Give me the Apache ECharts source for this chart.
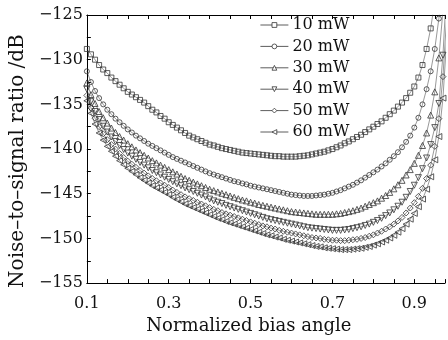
<!DOCTYPE html>
<html><head><meta charset="utf-8">
<script src="https://cdn.jsdelivr.net/npm/echarts@6/dist/echarts.min.js"></script>
<style>html,body{margin:0;padding:0;background:#fff}#c{width:448px;height:340px}</style>
</head><body><div id="c"></div>
<script>
const xs = [0.10,0.11,0.12,0.13,0.14,0.15,0.16,0.17,0.18,0.19,
0.20,0.21,0.22,0.23,0.24,0.25,0.26,0.27,0.28,0.29,
0.30,0.31,0.32,0.33,0.34,0.35,0.36,0.37,0.38,0.39,
0.40,0.41,0.42,0.43,0.44,0.45,0.46,0.47,0.48,0.49,
0.50,0.51,0.52,0.53,0.54,0.55,0.56,0.57,0.58,0.59,
0.60,0.61,0.62,0.63,0.64,0.65,0.66,0.67,0.68,0.69,
0.70,0.71,0.72,0.73,0.74,0.75,0.76,0.77,0.78,0.79,
0.80,0.81,0.82,0.83,0.84,0.85,0.86,0.87,0.88,0.89,
0.90,0.91,0.92,0.93,0.94,0.95,0.96,0.97,0.98];
const seriesNames = ['10 mW','20 mW','30 mW','40 mW','50 mW','60 mW'];
const p10 = [-128.8,-129.4,-130.0,-130.6,-131.1,-131.5,-132.0,-132.4,-132.8,-133.2,
-133.6,-133.9,-134.2,-134.5,-134.8,-135.2,-135.6,-135.9,-136.3,-136.6,
-137.0,-137.3,-137.6,-137.9,-138.2,-138.5,-138.7,-138.9,-139.1,-139.3,
-139.5,-139.6,-139.75,-139.9,-140.0,-140.1,-140.2,-140.3,-140.4,-140.45,
-140.5,-140.55,-140.6,-140.65,-140.7,-140.75,-140.8,-140.8,-140.85,-140.85,
-140.85,-140.85,-140.8,-140.75,-140.7,-140.6,-140.5,-140.4,-140.3,-140.15,
-140.0,-139.8,-139.6,-139.35,-139.15,-138.9,-138.65,-138.4,-138.1,-137.8,
-137.5,-137.2,-136.9,-136.5,-136.1,-135.7,-135.25,-134.8,-134.3,-133.7,
-133.0,-132.0,-130.6,-128.8,-126.5,-123.5];
const p20 = [-131.3,-132.5,-133.5,-134.3,-135.0,-135.6,-136.1,-136.6,-137.0,-137.4,
-137.8,-138.15,-138.5,-138.8,-139.1,-139.4,-139.65,-139.9,-140.15,-140.4,
-140.65,-140.9,-141.1,-141.3,-141.5,-141.7,-141.9,-142.1,-142.3,-142.5,
-142.7,-142.85,-143.0,-143.15,-143.3,-143.45,-143.6,-143.7,-143.85,-143.95,
-144.1,-144.2,-144.3,-144.4,-144.5,-144.6,-144.7,-144.8,-144.9,-145.0,
-145.1,-145.15,-145.2,-145.25,-145.25,-145.25,-145.2,-145.15,-145.1,-145.0,
-144.9,-144.75,-144.6,-144.4,-144.2,-144.0,-143.75,-143.5,-143.2,-142.9,
-142.6,-142.3,-141.95,-141.6,-141.2,-140.8,-140.35,-139.8,-139.2,-138.5,
-137.6,-136.5,-135.0,-133.3,-131.3,-128.8,-125.4,-121.0];
const p30 = [-132.6,-133.9,-134.9,-135.8,-136.5,-137.1,-137.65,-138.15,-138.6,-139.0,
-139.4,-139.75,-140.1,-140.4,-140.7,-141.0,-141.3,-141.55,-141.8,-142.05,
-142.3,-142.55,-142.8,-143.05,-143.3,-143.5,-143.7,-143.9,-144.1,-144.3,
-144.5,-144.65,-144.8,-144.95,-145.1,-145.25,-145.4,-145.55,-145.7,-145.8,
-145.95,-146.05,-146.2,-146.3,-146.4,-146.5,-146.6,-146.7,-146.8,-146.9,
-147.0,-147.05,-147.1,-147.15,-147.2,-147.25,-147.3,-147.3,-147.3,-147.3,
-147.3,-147.25,-147.2,-147.1,-147.0,-146.9,-146.75,-146.6,-146.4,-146.2,
-146.0,-145.8,-145.5,-145.2,-144.85,-144.45,-144.0,-143.5,-142.9,-142.3,
-141.6,-140.7,-139.6,-138.2,-136.2,-133.6,-129.8,-124.5];
const p40 = [-133.3,-134.7,-135.8,-136.7,-137.45,-138.1,-138.65,-139.15,-139.6,-140.05,
-140.45,-140.8,-141.15,-141.5,-141.8,-142.1,-142.4,-142.65,-142.9,-143.15,
-143.4,-143.65,-143.9,-144.1,-144.35,-144.55,-144.75,-144.95,-145.15,-145.35,
-145.6,-145.8,-145.95,-146.1,-146.3,-146.45,-146.6,-146.75,-146.9,-147.05,
-147.2,-147.35,-147.5,-147.65,-147.8,-147.9,-148.0,-148.1,-148.2,-148.3,
-148.4,-148.5,-148.6,-148.7,-148.8,-148.85,-148.9,-148.95,-149.0,-149.05,
-149.1,-149.1,-149.1,-149.05,-149.0,-148.9,-148.8,-148.7,-148.55,-148.4,
-148.2,-148.0,-147.75,-147.45,-147.15,-146.8,-146.4,-145.95,-145.4,-144.75,
-144.05,-143.2,-142.2,-141.0,-139.5,-137.6,-134.9,-129.5,-121.0];
const p50 = [-134.0,-135.4,-136.55,-137.5,-138.3,-138.95,-139.5,-140.0,-140.5,-140.95,
-141.35,-141.7,-142.05,-142.4,-142.7,-143.0,-143.3,-143.55,-143.8,-144.05,
-144.3,-144.6,-144.85,-145.1,-145.35,-145.55,-145.75,-145.95,-146.15,-146.35,
-146.55,-146.75,-146.9,-147.1,-147.25,-147.4,-147.55,-147.7,-147.85,-148.0,
-148.15,-148.3,-148.45,-148.6,-148.7,-148.85,-148.95,-149.1,-149.2,-149.3,
-149.4,-149.5,-149.6,-149.7,-149.8,-149.9,-149.95,-150.0,-150.1,-150.15,
-150.2,-150.2,-150.25,-150.25,-150.2,-150.15,-150.1,-150.0,-149.9,-149.75,
-149.6,-149.4,-149.2,-148.95,-148.7,-148.4,-148.05,-147.65,-147.15,-146.6,
-146.0,-145.3,-144.4,-143.3,-141.8,-139.7,-136.6,-131.9,-124.5];
const p60 = [-134.6,-136.0,-137.2,-138.2,-139.0,-139.7,-140.25,-140.8,-141.3,-141.75,
-142.15,-142.5,-142.85,-143.2,-143.5,-143.8,-144.1,-144.35,-144.6,-144.85,
-145.1,-145.4,-145.65,-145.9,-146.15,-146.35,-146.55,-146.75,-146.95,-147.15,
-147.35,-147.55,-147.75,-147.9,-148.1,-148.25,-148.4,-148.55,-148.7,-148.85,
-149.0,-149.15,-149.3,-149.45,-149.6,-149.7,-149.85,-149.95,-150.1,-150.2,
-150.3,-150.4,-150.5,-150.6,-150.7,-150.8,-150.9,-150.95,-151.05,-151.1,
-151.15,-151.2,-151.25,-151.25,-151.25,-151.2,-151.15,-151.1,-151.0,-150.9,
-150.75,-150.6,-150.4,-150.2,-149.95,-149.65,-149.3,-148.9,-148.4,-147.85,
-147.2,-146.45,-145.6,-144.5,-143.1,-141.2,-138.6,-134.3,-127.0];
const xTickLabels = ['0.1','0.3','0.5','0.7','0.9'];
const yTickLabels = ['−155','−150','−145','−140','−135','−130','−125'];

const allValues = [p10,p20,p30,p40,p50,p60];
const symbols = ['rect','circle','triangle','path://M0,0L10,0L5,9Z','diamond','path://M9,0L9,10L0,5Z'];
const FONT = 'DejaVu Serif';
const INK = '#333';

const chart = echarts.init(document.getElementById('c'), null, {renderer:'canvas'});
const series = allValues.map((vals, k) => ({
  name: seriesNames[k],
  type: 'line',
  data: vals.map((v, i) => [xs[i], v]),
  symbol: symbols[k],
  symbolSize: k < 2 ? 5 : 6,
  showSymbol: true,
  showAllSymbol: true,
  clip: true,
  lineStyle: {color: INK, width: 0.5},
  itemStyle: {color: 'rgba(255,255,255,0)', borderColor: INK, borderWidth: 0.8},
  emphasis: {disabled: true},
  animation: false,
  z: 2
}));

function fmtX(v){
  const k = (v - 0.1) / 0.2;
  if (Math.abs(k - Math.round(k)) < 1e-6) { const s = xTickLabels[Math.round(k)]; return s === undefined ? '' : s; }
  return '';
}
function fmtY(v){
  const k = (v + 155) / 5;
  if (Math.abs(k - Math.round(k)) < 1e-6) { const s = yTickLabels[Math.round(k)]; return s === undefined ? '' : s; }
  return '';
}

chart.setOption({
  animation: false,
  backgroundColor: '#fff',
  grid: {left: 84, right: 0, top: 15, bottom: 55, containLabel: false},
  legend: {
    orient: 'vertical', left: 260, top: 17, padding: 0,
    itemWidth: 28, itemHeight: 6, itemGap: 5.4,
    itemStyle: {color: '#fff', borderColor: INK, borderWidth: 0.8},
    lineStyle: {color: INK, width: 0.8},
    textStyle: {fontFamily: FONT, fontSize: 16, color: '#111', lineHeight: 16, padding:[0,0,0,-1]},
    data: seriesNames
  },
  xAxis: [{
    type: 'value', min: 0.1, max: 0.975, interval: 0.05,
    position: 'bottom',
    axisLine: {show: true, onZero: false, lineStyle: {color: '#000', width: 1}},
    axisTick: {show: true, inside: true, length: 4, lineStyle: {color: '#000'}},
    splitLine: {show: false},
    axisLabel: {formatter: fmtX, fontFamily: FONT, fontSize: 16, color: '#111', margin: 13, showMaxLabel: true, showMinLabel: true},
    name: 'Normalized bias angle', nameLocation: 'middle', nameGap: 33,
    nameTextStyle: {fontFamily: FONT, fontSize: 18, color: '#111', padding: [0, 34, 0, 0]}
  },{
    type: 'value', min: 0.1, max: 0.975, interval: 0.05,
    position: 'top',
    axisLine: {show: true, onZero: false, lineStyle: {color: '#000', width: 1}},
    axisTick: {show: true, inside: true, length: 4, lineStyle: {color: '#000'}},
    splitLine: {show: false},
    axisLabel: {show: false}
  }],
  yAxis: [{
    type: 'value', min: -155, max: -125, interval: 2.5,
    axisLine: {show: true, onZero: false, lineStyle: {color: '#000', width: 1}},
    axisTick: {show: true, inside: true, length: 4, lineStyle: {color: '#000'}},
    splitLine: {show: false},
    axisLabel: {formatter: fmtY, fontFamily: FONT, fontSize: 16, color: '#111', margin: 4},
    name: 'Noise–to–signal ratio /dB', nameLocation: 'middle', nameGap: 56,
    nameTextStyle: {fontFamily: FONT, fontSize: 20, color: '#111', padding: [0, 24, 0, 0]}
  }],
  series: series
});
</script></body></html>
